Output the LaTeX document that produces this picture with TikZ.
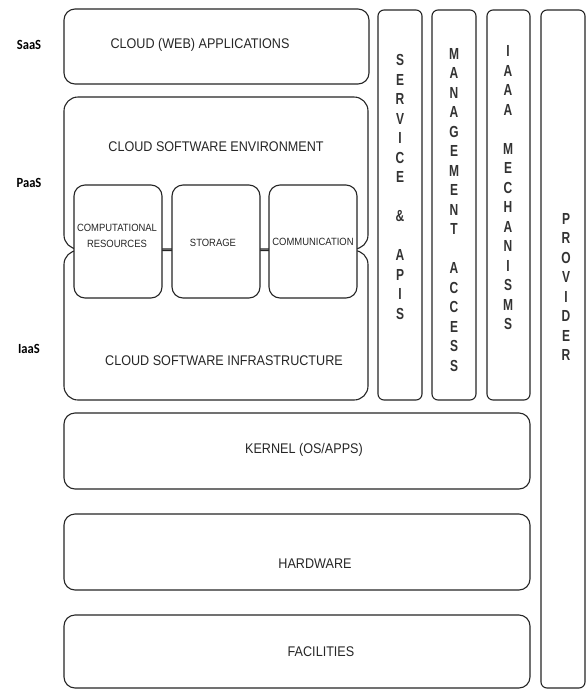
\documentclass[tikz,border=0pt]{standalone}
\usepackage{fontspec}
\setmainfont[FakeStretch=0.9]{Liberation Sans}
\newfontfamily\colfont[FakeStretch=0.75]{Liberation Sans}
\newfontfamily\tierfont[FakeStretch=0.9]{Carlito}
\begin{document}
\begin{tikzpicture}[x=1pt,y=-1pt,
  frame/.style={draw=black!85, line width=1.1pt, rounded corners=11pt},
  bigframe/.style={draw=black!85, line width=1.1pt, rounded corners=14pt},
  inner/.style={draw=black!85, fill=white, line width=1.1pt, rounded corners=11pt},
  column/.style={draw=black!85, line width=1.1pt, rounded corners=6pt},
  caption/.style={font=\fontsize{14}{16}\selectfont, text=black!85, inner sep=0pt},
  smallcap/.style={font=\fontsize{10.5}{16}\selectfont, text=black!85, inner sep=0pt, align=center},
  tier/.style={font=\tierfont\bfseries\fontsize{14}{15}\selectfont, inner sep=0pt},
  colcap/.style={font=\colfont\bfseries\fontsize{16}{19.5}\selectfont, text=black!80, align=center, inner sep=0pt}
]
% page
\fill[white] (0,0) rectangle (588,689);
\useasboundingbox (0,0) rectangle (588,689);

% service model tiers
\node[tier] (saas) at (29,45) {SaaS};
\node[tier] (paas) at (29,183) {PaaS};
\node[tier] (iaas) at (29,349) {IaaS};

% application layer
\draw[frame] (64,9) rectangle (369,84);
\node[caption] (apps) at (200,45) {CLOUD (WEB) APPLICATIONS};

% software environment and infrastructure, joined by the resource blocks
\draw[bigframe] (64,97) rectangle (368,249);
\draw[bigframe] (64,250.5) rectangle (368,400);
\draw[inner] (74,185) rectangle (162,298);
\draw[inner] (172,185) rectangle (260,298);
\draw[inner] (269,185) rectangle (357,298);
\node[caption] (env) at (216,147) {CLOUD SOFTWARE ENVIRONMENT};
\node[caption] (infra) at (224,361) {CLOUD SOFTWARE INFRASTRUCTURE};
\node[smallcap] (comp) at (117,236) {COMPUTATIONAL\\RESOURCES};
\node[smallcap] (stor) at (213,243) {STORAGE};
\node[smallcap] (comm) at (313,242) {COMMUNICATION};

% cross-cutting columns
\draw[column] (378,10) rectangle (422,400);
\draw[column] (432,10) rectangle (476,400);
\draw[column] (487,10) rectangle (530,400);
\draw[column] (541,10) rectangle (585,688);
\node[colcap] (svc) at (400,187) {S\\E\\R\\V\\I\\C\\E\\~\\\&\\~\\A\\P\\I\\S};
\node[colcap] (mgmt) at (454,210) {M\\A\\N\\A\\G\\E\\M\\E\\N\\T\\~\\A\\C\\C\\E\\S\\S};
\node[colcap] (iaaa) at (508,188) {I\\A\\A\\A\\~\\M\\E\\C\\H\\A\\N\\I\\S\\M\\S};
\node[colcap] (prov) at (566,287) {P\\R\\O\\V\\I\\D\\E\\R};

% lower layers
\draw[frame] (64,413) rectangle (530,489);
\draw[frame] (64,514) rectangle (530,590);
\draw[frame] (64,615) rectangle (530,688);
\node[caption] (kernel) at (304,450) {KERNEL (OS/APPS)};
\node[caption] (hw) at (315,564) {HARDWARE};
\node[caption] (fac) at (321,652) {FACILITIES};
\end{tikzpicture}
\end{document}
